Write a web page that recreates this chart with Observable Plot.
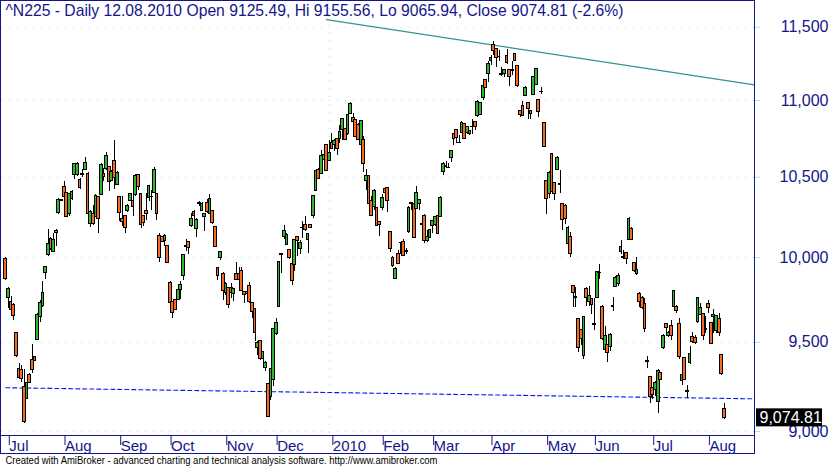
<!DOCTYPE html>
<html><head><meta charset="utf-8">
<script src="https://cdn.jsdelivr.net/npm/d3@7"></script>
<script src="https://cdn.jsdelivr.net/npm/@observablehq/plot@0.6"></script>
<style>
body{margin:0;background:#fff;}
#chart{width:831px;height:466px;overflow:hidden;}
</style></head><body><div id="chart"></div>
<script>
// ---- data (Nikkei 225 daily) ----
const openP = [
9991,9756,9736,9717,9551,9347,9343,9245,9178,9313,
9399,9414,9516,9645,9713,9909,10015,10113,10034,10165,
10275,10355,10438,10400,10267,10362,10516,10513,10484,10520,
10549,10522,10209,10271,10250,10375,10390,10522,10552,10565,
10479,10604,10450,10375,10238,10256,10288,10350,10348,10386,
10516,10392,10254,10288,10371,10378,10400,10396,10134,10125,
10102,10071,9850,9736,9744,9746,9805,9887,10065,10096,
10192,10279,10175,10335,10288,10250,10336,10271,10286,10186,
9936,10000,9903,9786,9817,9817,9780,9903,9899,9922,
9795,9797,9830,9727,9692,9465,9508,9403,9355,9262,
9193,9283,9547,9707,10020,10125,10077,10044,9961,9955,
10125,10053,10180,10198,10109,10198,10254,10412,10548,10522,
10609,10705,10604,10718,10709,10748,10744,10804,10809,10776,
10913,10885,10870,10839,10707,10739,10475,10505,10348,10313,
10309,10217,10309,10426,10434,10159,10000,9873,10021,10092,
10096,10040,10156,10334,10334,10302,10328,10204,10259,10100,
10121,10194,10198,10254,10250,10533,10568,10559,10624,10776,
10804,10720,10787,10842,10783,10800,10825,10857,10896,10907,
11016,11137,11175,11268,11375,11348,11293,11177,11175,11300,
11205,11205,11314,11232,10928,10961,11032,10985,10928,11039,
11107,11005,11057,10848,10473,10396,10646,10463,10544,10455,
10329,10317,10084,10125,9828,9763,9635,9570,9421,9811,
9736,9754,9605,9760,9906,9707,9455,9483,9474,9706,
9824,9844,10033,10002,10027,10109,10177,9967,9903,9780,
9760,9721,9392,9302,9240,9230,9161,9324,9465,9606,
9537,9596,9707,9707,9606,9277,9408,9221,9384,9531,
9523,9616,9658,9664,9576,9723,9610,9645,9565,9635,
9427,9125.49];
const highP = [
10000,9820,9766,9725,9555,9380,9369,9343,9290,9324,
9489,9421,9665,9746,9856,9945,10171,10121,10150,10170,
10365,10360,10471,10405,10400,10415,10590,10595,10490,10549,
10626,10528,10290,10321,10390,10380,10585,10557,10656,10570,
10540,10739,10535,10380,10379,10260,10326,10398,10417,10515,
10520,10395,10258,10396,10448,10417,10562,10400,10146,10130,
10140,10075,9855,9740,9750,9808,9856,10020,10109,10100,
10271,10292,10240,10348,10340,10272,10362,10392,10290,10190,
9940,10040,9908,9850,9822,9844,9815,9971,9941,9941,
9800,9800,9848,9730,9695,9502,9512,9447,9390,9265,
9352,9580,9639,9980,10025,10198,10145,10048,9965,10114,
10130,10104,10219,10254,10147,10200,10384,10542,10553,10674,
10652,10710,10739,10783,10740,10752,10835,10883,10812,10910,
10985,10913,10875,10845,10870,10761,10548,10510,10375,10420,
10312,10220,10392,10430,10438,10163,10005,9938,10042,10095,
10109,10053,10313,10340,10338,10442,10360,10234,10263,10167,
10175,10228,10255,10267,10376,10592,10598,10587,10672,10780,
10808,10770,10859,10846,10826,10803,10874,10860,10998,10990,
11137,11140,11261,11307,11400,11352,11341,11223,11207,11346,
11210,11264,11320,11236,10932,10995,11091,10990,10932,11163,
11214,11010,11087,10852,10478,10535,10650,10468,10631,10544,
10334,10329,10188,10156,9832,9824,9640,9575,9650,9824,
9828,9758,9756,9918,9961,9712,9590,9488,9550,9762,
9884,9906,10104,10042,10032,10245,10182,9972,10000,9789,
9765,9756,9421,9307,9245,9276,9345,9328,9545,9610,
9560,9629,9806,9712,9639,9380,9412,9253,9474,9555,
9541,9762,9727,9668,9652,9746,9615,9688,9655,9668,
9430,9155.56];
const lowP = [
9865,9698,9680,9629,9414,9290,9271,9045,9175,9265,
9324,9390,9510,9613,9705,9868,10010,10045,10030,10071,
10267,10345,10362,10245,10250,10355,10487,10505,10425,10500,
10545,10265,10184,10198,10245,10146,10385,10471,10545,10409,
10470,10425,10445,10219,10188,10146,10275,10345,10250,10380,
10417,10177,10192,10229,10344,10292,10395,10229,9971,10090,
10067,9965,9717,9639,9683,9742,9752,9860,10036,10021,
10184,10219,10125,10313,10283,10163,10271,10265,10204,10063,
9860,9981,9746,9776,9698,9756,9736,9862,9862,9795,
9727,9775,9727,9639,9502,9427,9398,9384,9332,9075,
9170,9249,9540,9700,9906,10109,10072,9987,9834,9918,
10006,10021,10119,10162,10024,10180,10238,10408,10485,10517,
10605,10535,10600,10675,10663,10641,10718,10739,10735,10770,
10908,10852,10755,10735,10663,10533,10417,10322,10250,10292,
10190,10131,10292,10395,10281,10032,9938,9868,9957,10021,
10005,10021,10150,10292,10115,10298,10292,10136,10084,10092,
10115,10150,10194,10140,10245,10511,10565,10555,10594,10707,
10718,10718,10782,10740,10778,10772,10778,10804,10890,10900,
11000,11083,11118,11239,11307,11223,11261,11159,11152,11245,
11091,11170,11264,11090,10887,10891,11028,10874,10874,11035,
11100,10887,11041,10690,10265,10365,10400,10354,10540,10396,
10167,10202,10080,10000,9703,9703,9440,9483,9399,9707,
9707,9664,9570,9755,9868,9511,9445,9384,9445,9678,
9820,9828,10021,9991,9961,10105,10104,9912,9895,9703,
9693,9555,9352,9155,9174,9193,9099,9282,9460,9551,
9530,9511,9700,9668,9399,9254,9282,9184,9371,9493,
9489,9610,9653,9511,9551,9668,9488,9551,9551,9532,
9310,9065.94];
const closeP = [
9873,9815,9688,9652,9421,9296,9290,9052,9268,9271,
9343,9395,9658,9727,9791,9941,10084,10053,10109,10152,
10359,10350,10375,10250,10396,10409,10583,10587,10431,10515,
10594,10271,10284,10204,10384,10238,10578,10500,10639,10471,
10532,10494,10529,10275,10217,10184,10321,10392,10313,10511,
10438,10202,10212,10267,10442,10372,10544,10267,10000,10094,
10134,9969,9727,9672,9688,9804,9836,10017,10070,10057,
10240,10254,10234,10331,10334,10267,10282,10365,10212,10067,
9889,10034,9801,9844,9719,9786,9811,9868,9868,9801,
9776,9781,9735,9678,9551,9498,9403,9442,9384,9080,
9347,9575,9610,9975,10017,10165,10140,10000,9859,10109,
10104,10088,10183,10167,10142,10184,10379,10537,10490,10635,
10641,10539,10656,10679,10735,10679,10793,10878,10739,10904,
10978,10857,10761,10739,10865,10587,10511,10328,10254,10415,
10194,10202,10371,10400,10350,10053,9951,9934,9961,10088,
10011,10036,10309,10338,10121,10400,10354,10200,10100,10125,
10171,10223,10250,10146,10371,10587,10571,10556,10667,10748,
10750,10723,10848,10744,10822,10776,10828,10826,10993,10985,
11096,11087,11246,11284,11336,11284,11296,11174,11203,11250,
11159,11201,11268,11096,10902,10898,11087,10941,10913,11159,
11209,10924,11055,10696,10365,10529,10405,10396,10620,10452,
10234,10240,10184,10025,9786,9760,9465,9522,9645,9760,
9770,9715,9602,9914,9909,9522,9539,9440,9545,9709,
9879,9887,10063,9999,9991,10240,10109,9918,9926,9736,
9698,9575,9389,9193,9204,9271,9339,9287,9539,9584,
9551,9537,9801,9684,9414,9315,9287,9219,9433,9502,
9496,9756,9698,9535,9573,9698,9493,9657,9650,9551,
9318,9074.81];

const monthTickIndex  = [0,21,42,61,82,101,122,141,160,182,203,221,243,264];
const monthTickLabels = ["Jul","Aug","Sep","Oct","Nov","Dec","2010","Feb","Mar","Apr","May","Jun","Jul","Aug"];
const yearGridIndex = [122];
const priceTicks = [9000,9500,10000,10500,11000,11500];
const trendIndex = [120.9, 282.3];
const trendValue = [11553, 11105];
const supportIndex = [0, 282.3];
const supportValue = [9242, 9180];
const titleText = "^N225 - Daily 12.08.2010 Open 9125.49, Hi 9155.56, Lo 9065.94, Close 9074.81 (-2.6%)";
const lastClose = 9074.81;
const captionText = "Created with AmiBroker - advanced charting and technical analysis software. http://www.amibroker.com";

// ---- build ----
const bars = openP.map((o, i) => ({i, o, h: highP[i], l: lowP[i], c: closeP[i]}));
const trend = trendIndex.map((x, k) => ({x, v: trendValue[k]}));
const support = supportIndex.map((x, k) => ({x, v: supportValue[k]}));
const priceLabel = d3.format(",.2f")(lastClose);
const fmtTick = d3.format(",");

const NAVY = "#14148c", GRID = "#a4e4e4", UP = "#2fb52f", DOWN = "#f86a20";
const yDomain = [8978.2, 11687.6];

const chart = Plot.plot({
  width: 831, height: 466,
  marginLeft: 1, marginRight: 77, marginTop: 0, marginBottom: 31,
  x: {type: "linear", domain: [-1.62, 282.32]},
  y: {type: "log", domain: yDomain},
  style: {fontFamily: "'Liberation Sans', Arial, sans-serif", background: "#fff", overflow: "visible"},
  marks: [
    Plot.gridY(priceTicks, {stroke: GRID, strokeOpacity: 1, strokeDasharray: "1,7"}),
    Plot.gridX(yearGridIndex, {stroke: GRID, strokeOpacity: 1, strokeDasharray: "1,7"}),
    Plot.line(support, {x: "x", y: "v", stroke: "#0a18f0", strokeWidth: 1.1, strokeDasharray: "4,3"}),
    Plot.line(trend, {x: "x", y: "v", stroke: "#2e9494", strokeWidth: 1.2}),
    Plot.ruleX(bars, {x: "i", y1: "l", y2: "h", stroke: "#000", strokeWidth: 1, shapeRendering: "crispEdges"}),
    Plot.rect(bars, {
      x1: d => d.i - 0.52, x2: d => d.i + 0.52,
      y1: d => Math.min(d.o, d.c), y2: d => Math.max(d.o, d.c),
      fill: d => d.c >= d.o ? UP : DOWN, stroke: "#000", strokeWidth: 1, shapeRendering: "crispEdges"
    }),
    Plot.ruleY([yDomain[0]], {stroke: NAVY, strokeWidth: 1}),
    Plot.axisY(priceTicks, {anchor: "right", tickFormat: () => "", fill: "none", tickSize: 5, stroke: GRID}),
    Plot.text(priceTicks, {y: d => d, frameAnchor: "right", dx: 74, textAnchor: "end", fontSize: 16,
      fill: NAVY, text: d => fmtTick(d)}),
    Plot.axisX(monthTickIndex, {anchor: "bottom", tickFormat: d => monthTickLabels[monthTickIndex.indexOf(d)],
      tickSize: 10, tickPadding: -5.6, stroke: NAVY, fill: NAVY, fontSize: 15, textAnchor: "start", dx: 3.5}),
    Plot.text([titleText], {frameAnchor: "top-left", dx: 4, dy: 4, lineAnchor: "top", textAnchor: "start",
      fontSize: 15.7, fill: NAVY}),
    Plot.text([lastClose], {y: d => d, frameAnchor: "right", dx: 5, textAnchor: "start", fontSize: 16,
      fill: "#fff", text: () => priceLabel}),
    Plot.text([captionText], {frameAnchor: "bottom-left", dx: 4, dy: 25, lineAnchor: "middle", textAnchor: "start",
      fontSize: 10, fill: "#000"})
  ]
});
document.getElementById("chart").appendChild(chart);

// decorations: outer box, price tag background, text fitting
const svg = d3.select(chart);
svg.append("rect").attr("x", 0.5).attr("y", 0.5).attr("width", 754).attr("height", 453)
  .attr("fill", "none").attr("stroke", NAVY).attr("stroke-width", 1);
const texts = svg.selectAll("text");
const findText = s => texts.filter(function() { return this.textContent === s; });
const yPix = chart.scale("y").apply(lastClose);
const priceNode = findText(priceLabel).node();
if (priceNode) {
  const g = priceNode.parentNode;
  const r = document.createElementNS("http://www.w3.org/2000/svg", "rect");
  r.setAttribute("x", 756); r.setAttribute("y", yPix - 9);
  r.setAttribute("width", 66); r.setAttribute("height", 18); r.setAttribute("fill", "#000");
  g.parentNode.appendChild(r);
  g.parentNode.appendChild(g);
}
findText(captionText).attr("textLength", 432).attr("lengthAdjust", "spacingAndGlyphs");
findText(titleText).attr("textLength", 618).attr("lengthAdjust", "spacingAndGlyphs");
</script>
</body></html>
